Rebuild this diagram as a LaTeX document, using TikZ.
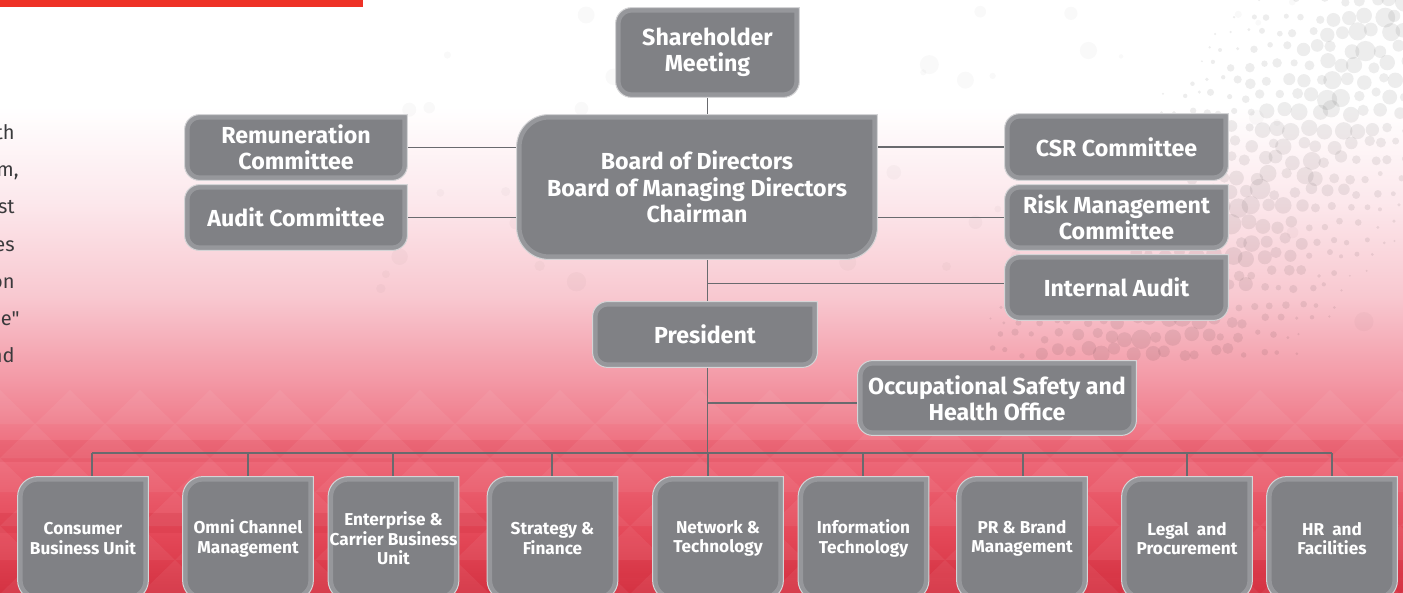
\documentclass[tikz,border=0pt]{standalone}
\usepackage{fontspec}
\setmainfont{Fira Sans}
\newfontfamily\bodyfont{Fira Sans}[Ligatures=TeXOff]
\usetikzlibrary{backgrounds}
\definecolor{CardGray}{RGB}{128,129,133}
\definecolor{CardEdge}{RGB}{212,212,214}
\definecolor{LinkGray}{RGB}{105,106,110}
\definecolor{BarRed}{RGB}{238,50,38}
\definecolor{BgDeep}{RGB}{212,50,66}
\definecolor{BgRed}{RGB}{228,72,88}
\definecolor{BgRose}{RGB}{238,108,124}
\definecolor{BgPink}{RGB}{243,153,166}
\definecolor{BgPale}{RGB}{248,200,208}
\definecolor{BgBlush}{RGB}{252,232,236}
\definecolor{BodyText}{RGB}{58,58,60}
\pgfdeclareverticalshading{pagebg}{100bp}{color(0bp)=(BgDeep); color(25bp)=(BgDeep);
  color(30bp)=(BgRed); color(37bp)=(BgRose); color(43bp)=(BgPink); color(50bp)=(BgPale);
  color(58bp)=(BgBlush); color(66bp)=(white); color(100bp)=(white)}
\tikzset{
  cardtext/.style={text=white,font=\bfseries\fontsize{11.6}{13.2}\selectfont,
    align=center,inner sep=0pt},
  unittext/.style={cardtext,font=\bfseries\fontsize{8.6}{9.8}\selectfont,
    minimum width=65pt,minimum height=61.5pt},
  link/.style={draw=LinkGray,line width=0.7pt},
  bodytext/.style={text=BodyText,font=\bodyfont\fontsize{10}{12}\selectfont,
    anchor=base east,inner sep=0pt},
  dot/.style={fill=black,opacity=0.025}
}
% card outline: top right corner stays square
\newcommand\cardpath[2]{[rounded corners=#2] (#1.west) -- (#1.north west) -- (#1.north)
  [sharp corners] -- (#1.north east) -- (#1.east)
  [rounded corners=#2] -- (#1.south east) -- (#1.south west) -- cycle}
\newcommand\drawcard[2]{%
  \fill[CardGray] \cardpath{#1}{#2};
  \begin{scope}
    \clip \cardpath{#1}{#2};
    \draw[white,opacity=0.18,line width=5pt] \cardpath{#1}{#2};
  \end{scope}
  \draw[CardEdge,line width=0.5pt] \cardpath{#1}{#2};}

\begin{document}
\begin{tikzpicture}[x=0.5pt,y=-0.5pt]
  \useasboundingbox (0,0) rectangle (1403,593);
  \clip (0,0) rectangle (1403,593);

  % governance
  \node[cardtext,minimum width=91.5pt,minimum height=44.5pt] (share) at (707.5,52.5) {Shareholder\\Meeting};
  \node[cardtext,minimum width=111pt,minimum height=32.5pt] (remun) at (296,147.5) {Remuneration\\Committee};
  \node[cardtext,minimum width=111pt,minimum height=32.5pt] (audit) at (296,217.5) {Audit Committee};
  \node[cardtext,minimum width=180pt,minimum height=72pt] (board) at (697,187)
    {Board of Directors\\Board of Managing Directors\\Chairman};
  \node[cardtext,minimum width=111.5pt,minimum height=33pt] (csr) at (1116.5,147) {CSR Committee};
  \node[cardtext,minimum width=111.5pt,minimum height=32.5pt] (risk) at (1116.5,217.5) {Risk Management\\Committee};
  \node[cardtext,minimum width=111.5pt,minimum height=32.5pt] (intaudit) at (1116.5,287.5) {Internal Audit};
  \node[cardtext,minimum width=112pt,minimum height=32.5pt] (pres) at (705,334.5) {President};
  \node[cardtext,minimum width=139pt,minimum height=37pt] (ohs) at (997,398) {Occupational Safety and\\Health Office};

  % business units
  \node[unittext] (cons) at (83,538.5) {Consumer\\Business Unit};
  \node[unittext] (omni) at (248,538.5) {Omni Channel\\Management};
  \node[unittext] (ent) at (393.5,538.5) {Enterprise \&\\Carrier Business\\Unit};
  \node[unittext] (strat) at (552.5,538.5) {Strategy \&\\Finance};
  \node[unittext] (net) at (718,538.5) {Network \&\\Technology};
  \node[unittext] (info) at (863.5,538.5) {Information\\Technology};
  \node[unittext] (pr) at (1022,538.5) {PR \& Brand\\Management};
  \node[unittext] (legal) at (1187,538.5) {Legal\ \ and\\Procurement};
  \node[unittext] (hr) at (1332,538.5) {HR\ \ and\\Facilities};
  \coordinate (busL) at (92,453);
  \coordinate (busR) at (1332,453);

  % clipped body text on the left
  \node[bodytext] (w1) at (15,140) {th};
  \node[bodytext] (w2) at (19,177) {m,};
  \node[bodytext] (w3) at (15,214) {st};
  \node[bodytext] (w4) at (15,252) {es};
  \node[bodytext] (w5) at (15,289) {on};
  \node[bodytext] (w6) at (20,326) {e"};
  \node[bodytext] (w7) at (15,363) {nd};

  \begin{scope}[on background layer]
    \shade[shading=pagebg] (0,0) rectangle (1403,593);
    \fill[BgDeep,opacity=0.18] (0,440) rectangle (1403,462);
    \fill[BgDeep,opacity=0.3] (0,513) rectangle (600,533);
    \fill[BgDeep,opacity=0.15] (600,560) rectangle (1403,578);
    \foreach \r in {0,...,5}
      \foreach \c in {0,...,20} {
        \pgfmathsetmacro\ty{390+\r*34}
        \pgfmathsetmacro\tx{\c*70+mod(\r,2)*35-35}
        \fill[white,opacity=0.06] (\tx,\ty+34) -- (\tx+35,\ty) -- (\tx+70,\ty+34) -- cycle;
      }
    % halftone dots, upper right
    \pgfmathsetseed{5}
    \foreach \gx in {0,...,27}
      \foreach \gy in {0,...,22} {
        \pgfmathsetmacro\px{990+\gx*16+mod(\gy,2)*8+rand*4}
        \pgfmathsetmacro\py{\gy*16+rand*4}
        \pgfmathsetmacro\rr{(9-abs((\px-1300)*0.778+(\py-140)*0.628)/17)*(0.6+0.6*rnd)}
        \ifdim\rr pt>1pt \fill[dot,opacity=0.07] (\px,\py) circle[radius=\rr]; \fi
      }
    \pgfmathsetseed{11}
    \foreach \k in {1,...,60} {
      \pgfmathsetmacro\px{380+rnd*1000}
      \pgfmathsetmacro\py{rnd*330}
      \pgfmathsetmacro\rr{2+rnd*8}
      \fill[dot] (\px,\py) circle[radius=\rr];
    }
    \fill[BarRed] (0,0) rectangle (363,7);

    % connectors
    \draw[link] (share.south) -- (share.south |- pres.north);
    \draw[link] (share.south |- pres.south) -- (share.south |- busL);
    \draw[link] (busL) -- (busR);
    \draw[link] (remun.east) -- (remun.east -| board.west);
    \draw[link] (audit.east) -- (audit.east -| board.west);
    \draw[link] (csr.west) -- (csr.west -| board.east);
    \draw[link] (risk.west) -- (risk.west -| board.east);
    \draw[link] ([yshift=2pt]intaudit.west) -- ([yshift=2pt]intaudit.west -| share.south);
    \draw[link] ([yshift=-2.5pt]ohs.west) -- ([yshift=-2.5pt]ohs.west -| share.south);
    \foreach \n/\x in {cons/92,omni/248,ent/393,strat/552,net/708,info/863,pr/1023,legal/1187,hr/1332}
      \draw[link] (\x,453) -- (\n.north -| \x,453);

    % cards
    \drawcard{share}{8pt}
    \foreach \n in {remun,audit,csr,risk,intaudit,pres,ohs}
      {\drawcard{\n}{7.5pt}}
    \drawcard{board}{16pt}
    \foreach \n in {cons,omni,ent,strat,net,info,pr,legal,hr}
      {\drawcard{\n}{10pt}}
  \end{scope}
\end{tikzpicture}
\end{document}
